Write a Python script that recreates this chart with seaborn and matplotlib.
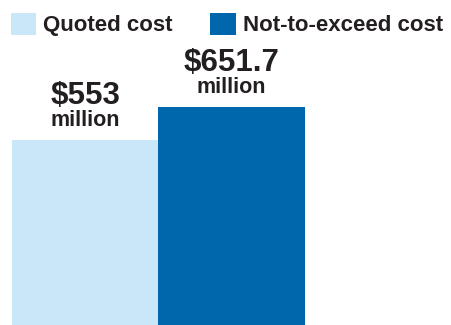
import matplotlib
matplotlib.use("Agg")
import matplotlib.pyplot as plt
import seaborn as sns
import pandas as pd

categories = ["Quoted cost", "Not-to-exceed cost"]
values = [553, 651.7]
value_labels = ["$553", "$651.7"]
unit_label = "million"
colors = ["#C9E7F8", "#0067AC"]

sns.set_style("white")
plt.rcParams["font.family"] = ["Liberation Sans", "DejaVu Sans"]

W, H, DPI = 451, 325, 100
fig = plt.figure(figsize=(W / DPI, H / DPI), dpi=DPI)
ax = fig.add_axes([12 / W, 0, 439 / W, 1])

df = pd.DataFrame({"category": categories, "value": values})
sns.barplot(data=df, x="category", y="value", hue="category",
            palette=colors, width=1.0, linewidth=0, saturation=1,
            ax=ax, legend=True)

ax.set_xlim(-0.5, 2.5)
ax.set_ylim(0, 973)
ax.axis("off")

txtc = "#231F20"
for i, (v, lab) in enumerate(zip(values, value_labels)):
    ax.annotate(unit_label, xy=(i, v), xytext=(0, 14), textcoords="offset pixels",
                ha="center", va="baseline", fontsize=15.5, fontweight="bold", color=txtc)
    ax.annotate(lab, xy=(i, v), xytext=(0, 36), textcoords="offset pixels",
                ha="center", va="baseline", fontsize=22.5, fontweight="bold", color=txtc)

handles, labels = ax.get_legend_handles_labels()
leg = ax.get_legend()
if leg is not None:
    leg.remove()
fs = 16
fig.legend(handles, labels, loc="upper left",
           bbox_to_anchor=(11 / W, 1 - 13 / H), bbox_transform=fig.transFigure,
           ncol=2, frameon=False, borderpad=0, borderaxespad=0,
           handlelength=1.13, handleheight=1.13, handletextpad=0.32,
           columnspacing=1.7, prop={"size": fs, "weight": "bold"},
           labelcolor=txtc)

fig.savefig("out.png", dpi=DPI)
